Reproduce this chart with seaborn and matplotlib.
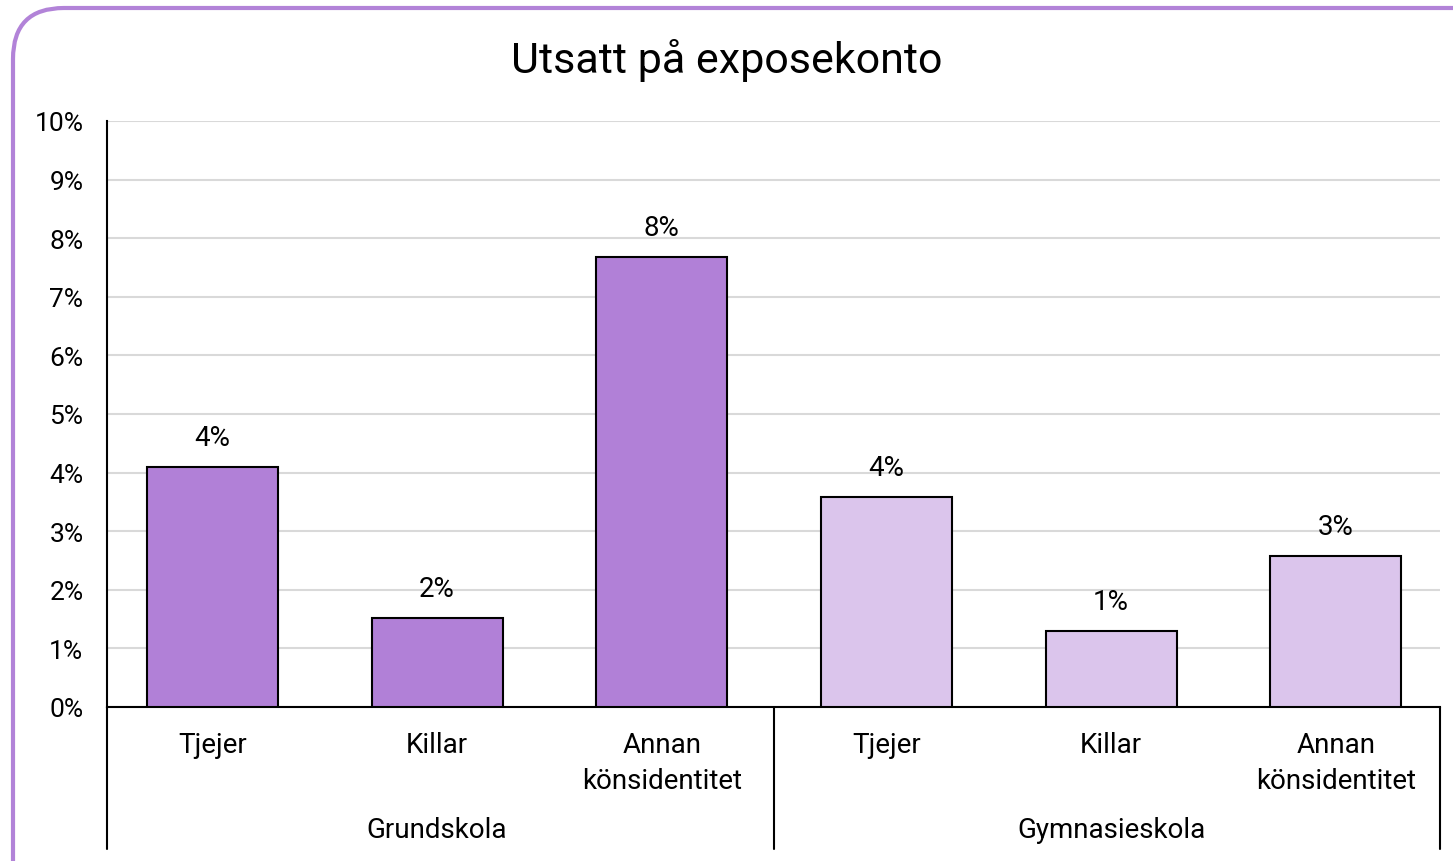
import pandas as pd
import matplotlib
matplotlib.use("Agg")
import matplotlib.pyplot as plt
import matplotlib.transforms as mtransforms
from matplotlib.patches import FancyBboxPatch
import seaborn as sns

# Data
skolor = ["Grundskola", "Grundskola", "Grundskola",
          "Gymnasieskola", "Gymnasieskola", "Gymnasieskola"]
kon = ["Tjejer", "Killar", "Annan\nkönsidentitet",
       "Tjejer", "Killar", "Annan\nkönsidentitet"]
andel = [4.1, 1.52, 7.68, 3.58, 1.3, 2.58]
grupper = ["Grundskola", "Gymnasieskola"]

df = pd.DataFrame({
    "nyckel": [f"{s}_{k}" for s, k in zip(skolor, kon)],
    "skola": skolor,
    "kon": kon,
    "andel": andel,
})

sns.set_theme(style="white")
plt.rcParams["font.family"] = ["Roboto", "DejaVu Sans"]
plt.rcParams["text.color"] = "black"
plt.rcParams["xtick.color"] = "black"
plt.rcParams["ytick.color"] = "black"

W, H = 1453, 862
fig = plt.figure(figsize=(W / 100, H / 100), dpi=100)
ax = fig.add_axes([107 / W, 1 - 708 / H, (1440 - 107) / W, (708 - 122) / H])

# rounded border round the whole chart
border = FancyBboxPatch((13 / W, -0.2), 1.2, 1 - 9 / H + 0.2,
                        boxstyle="round,pad=0,rounding_size=0.035",
                        transform=fig.transFigure, facecolor="none",
                        edgecolor="#B283D8", linewidth=3, mutation_aspect=W / H)
fig.patches.append(border)

sns.barplot(data=df, x="nyckel", y="andel", hue="skola", dodge=False,
            palette={"Grundskola": "#B180D7", "Gymnasieskola": "#DBC5EC"},
            saturation=1, edgecolor="black", linewidth=1.5, width=0.583,
            legend=False, ax=ax, zorder=3)

ax.set_ylim(0, 10)
ax.set_xlim(-0.469, 5.464)
ax.set_yticks(range(0, 11))
ax.set_yticklabels([f"{v}%" for v in range(0, 11)], fontsize=19)
ax.set_xticks(range(len(kon)))
ax.set_xticklabels(kon, fontsize=20, linespacing=1.45)
ax.tick_params(axis="both", length=0)
ax.tick_params(axis="y", pad=17)
ax.tick_params(axis="x", pad=17)
ax.set_xlabel("")
ax.set_ylabel("")
ax.yaxis.grid(True, color="#D9D9D9", linewidth=1.5, zorder=0)
ax.set_axisbelow(True)
for s in ["top", "right"]:
    ax.spines[s].set_visible(False)
for s in ["left", "bottom"]:
    ax.spines[s].set_color("black")
    ax.spines[s].set_linewidth(1.5)

# value labels
for i, v in enumerate(andel):
    ax.text(i, v + 0.27, f"{round(v):.0f}%", ha="center", va="bottom", fontsize=20)

# group separators and group labels below the axis
trans = mtransforms.blended_transform_factory(ax.transData, ax.transAxes)
low = -(850 - 708) / (708 - 122)
for xv in [-0.469, 2.5, 5.464]:
    ax.plot([xv, xv], [0, low], color="black", lw=1.5, transform=trans, clip_on=False)
for j, g in enumerate(grupper):
    ax.text(1 + 3 * j, -(831 - 708) / (708 - 122), g, transform=trans,
            ha="center", va="center", fontsize=20)

fig.suptitle("Utsatt på exposekonto", y=1 - 60 / H, va="center", fontsize=31)

fig.savefig("out.png", dpi=100)
